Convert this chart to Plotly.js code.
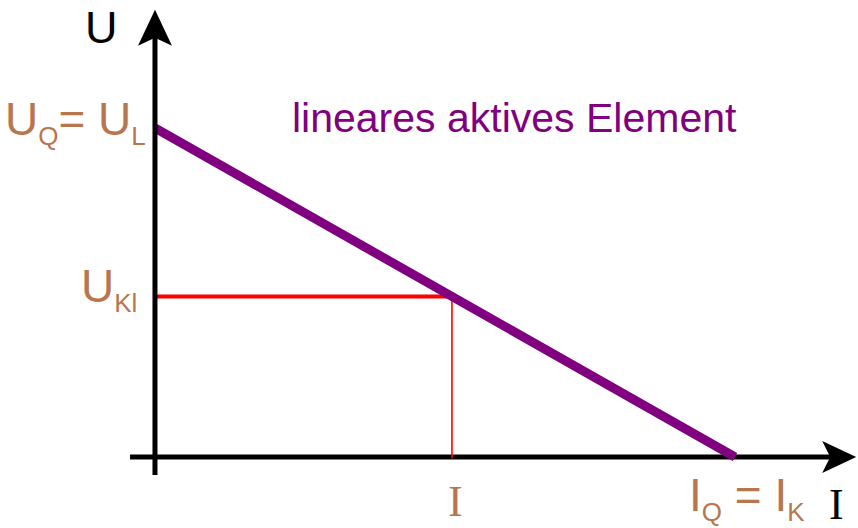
<!DOCTYPE html>
<html>
<head>
<meta charset="utf-8">
<script src="https://cdn.plot.ly/plotly-3.0.1.min.js"></script>
<style>
  html, body { margin: 0; padding: 0; background: #ffffff; }
  #chart { width: 858px; height: 528px; }
</style>
</head>
<body>
<div id="chart"></div>
<script>
// Characteristic of a linear active element (normalised units)
var sourceI = [0, 1];          // current: 0 ... I_K
var sourceU = [1, 0];          // voltage: U_L ... 0
var opI = 0.512;               // operating point current I
var opU = 0.488;               // terminal voltage U_Kl at I

// Axis extents (in the same normalised units)
var iAxisStart = -0.043, iAxisTip = 1.209;
var uAxisStart = -0.055, uAxisTip = 1.359;

var brown = '#B8764F';
var purple = '#800080';
var red = '#FF0000';

// small index letters
function sub(t) { return '<sub><span style="font-size:26px">' + t + '</span></sub>'; }

var traces = [
  { // operating point: horizontal guide to U axis
    x: [0, opI], y: [opU, opU], mode: 'lines',
    line: { color: red, width: 4 }, hoverinfo: 'skip'
  },
  { // operating point: vertical guide to I axis
    x: [opI, opI], y: [opU, -0.004], mode: 'lines',
    line: { color: red, width: 1.6 }, hoverinfo: 'skip'
  },
  { // source characteristic
    x: sourceI, y: sourceU, mode: 'lines',
    line: { color: purple, width: 9 }, hoverinfo: 'skip'
  }
];

var shapes = [
  { type: 'line', xref: 'x', yref: 'y', x0: 0, x1: 0, y0: uAxisStart, y1: uAxisTip - 0.08,
    line: { color: '#000', width: 5 }, layer: 'above' },
  { type: 'line', xref: 'x', yref: 'y', x0: iAxisStart, x1: iAxisTip - 0.04, y0: 0, y1: 0,
    line: { color: '#000', width: 5 }, layer: 'below' },
  { type: 'path', xref: 'x', yref: 'y', xsizemode: 'pixel', ysizemode: 'pixel',
    xanchor: 0, yanchor: uAxisTip,
    path: 'M 0 0 L -17 -36 L 0 -28 L 17 -36 Z',
    fillcolor: '#000', line: { width: 0 }, layer: 'above' },
  { type: 'path', xref: 'x', yref: 'y', xsizemode: 'pixel', ysizemode: 'pixel',
    xanchor: iAxisTip, yanchor: 0,
    path: 'M 0 0 L -34 16 L -26 0 L -34 -16 Z',
    fillcolor: '#000', line: { width: 0 }, layer: 'above' }
];

var sans = 'Liberation Sans, Arial, sans-serif';
var serif = 'Liberation Serif, Times New Roman, serif';

var annotations = [
  { x: 0, y: 1, xref: 'x', yref: 'paper', text: 'U', showarrow: false,
    xanchor: 'right', yanchor: 'top', xshift: -35, yshift: 0,
    font: { family: sans, size: 45, color: '#000' } },
  { x: 0, y: sourceU[0], xref: 'x', yref: 'y', text: 'U' + sub('Q') + '= U' + sub('L'), showarrow: false,
    xanchor: 'right', yanchor: 'middle', xshift: -7, yshift: 6,
    font: { family: sans, size: 46, color: brown } },
  { x: 0, y: opU, xref: 'x', yref: 'y', text: 'U' + sub('Kl'), showarrow: false,
    xanchor: 'right', yanchor: 'middle', xshift: -16, yshift: 7,
    font: { family: sans, size: 46, color: brown } },
  { x: opI, y: 0, xref: 'x', yref: 'paper', text: 'I', showarrow: false,
    xanchor: 'center', yanchor: 'bottom', xshift: 4, yshift: 0,
    font: { family: serif, size: 44, color: brown } },
  { x: sourceI[1], y: 0, xref: 'x', yref: 'y', text: 'I' + sub('Q') + ' = I' + sub('K'), showarrow: false,
    xanchor: 'center', yanchor: 'top', xshift: 12, yshift: -10,
    font: { family: sans, size: 46, color: brown } },
  { x: iAxisTip, y: 0, xref: 'x', yref: 'y', text: 'I', showarrow: false,
    xanchor: 'right', yanchor: 'top', xshift: -10, yshift: -21,
    font: { family: serif, size: 44, color: '#000' } },
  { x: 0.3, y: 1.0, xref: 'x', yref: 'y', text: 'lineares aktives Element', showarrow: false,
    xanchor: 'left', yanchor: 'middle', xshift: -39, yshift: 10,
    font: { family: sans, size: 41, color: purple } }
];

var layout = {
  width: 858, height: 528,
  margin: { l: 0, r: 0, t: 0, b: 0 },
  paper_bgcolor: '#ffffff', plot_bgcolor: '#ffffff',
  showlegend: false,
  xaxis: { range: [-0.2672, 1.2121], visible: false, fixedrange: true },
  yaxis: { range: [-0.2158, 1.389], visible: false, fixedrange: true },
  shapes: shapes,
  annotations: annotations
};

Plotly.newPlot('chart', traces, layout, { displayModeBar: false, staticPlot: true });
</script>
</body>
</html>
